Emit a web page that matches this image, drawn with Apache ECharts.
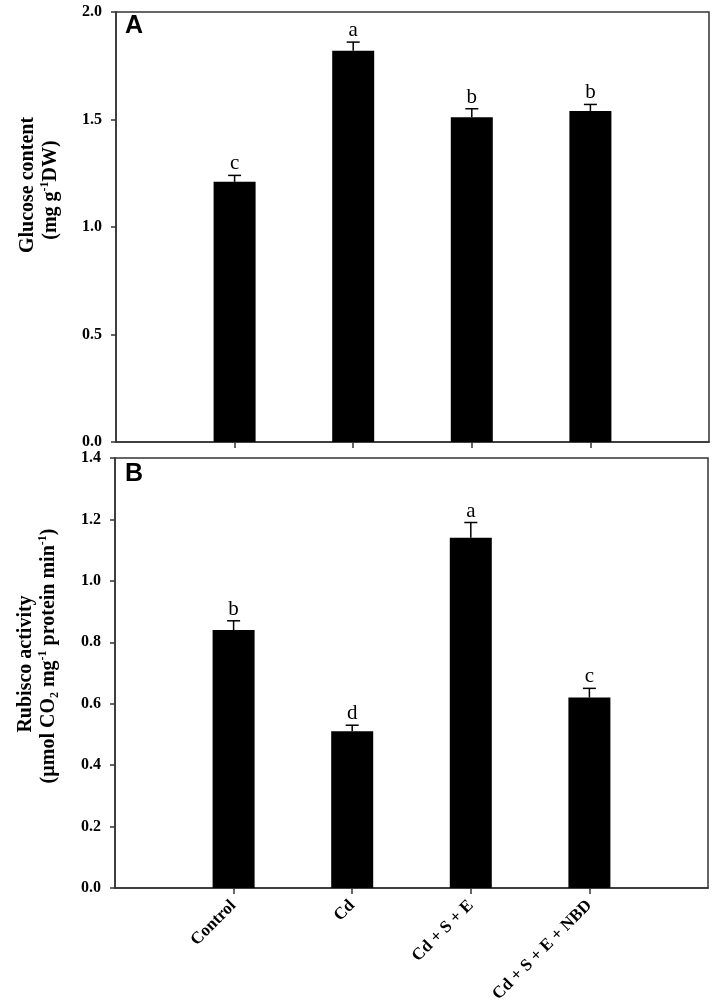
<!DOCTYPE html>
<html>
<head>
<meta charset="utf-8">
<script src="https://cdn.jsdelivr.net/npm/echarts@6/dist/echarts.min.js"></script>
<style>
html,body{margin:0;padding:0;background:#fff;}
#chart{width:716px;height:1008px;}
</style>
</head>
<body>
<div id="chart"></div>
<script>
// ---- data ----
var categories = ['Control', 'Cd', 'Cd + S + E', 'Cd + S + E + NBD'];
var categoryPositions = [1, 2, 3, 4];
var glucose = [1.21, 1.82, 1.51, 1.54];
var glucoseErr = [0.03, 0.04, 0.04, 0.03];
var glucoseLetters = ['c', 'a', 'b', 'b'];
var rubisco = [0.84, 0.51, 1.14, 0.62];
var rubiscoErr = [0.03, 0.02, 0.05, 0.03];
var rubiscoLetters = ['b', 'd', 'a', 'c'];
var glucoseTicks = [0, 0.5, 1.0, 1.5, 2.0];
var rubiscoTicks = [0, 0.2, 0.4, 0.6, 0.8, 1.0, 1.2, 1.4];

// ---- build ----
var chart = echarts.init(document.getElementById('chart'), null, {renderer: 'canvas'});
var serif = '"Liberation Serif", "Times New Roman", serif';
var frameColor = '#333';

function barData(vals) {
  return vals.map(function (v, i) { return [categoryPositions[i], v]; });
}
function errData(vals, errs) {
  return vals.map(function (v, i) { return [categoryPositions[i], v, errs[i]]; });
}
function errRender(letters) {
  return function (params, api) {
    var x = api.value(0), v = api.value(1), e = api.value(2);
    var p0 = api.coord([x, v]);
    var p1 = api.coord([x, v + e]);
    return {
      type: 'group',
      children: [
        {type: 'line', shape: {x1: p0[0], y1: p0[1], x2: p1[0], y2: p1[1]}, style: {stroke: '#000', lineWidth: 1.5}},
        {type: 'line', shape: {x1: p1[0] - 6.5, y1: p1[1], x2: p1[0] + 6.5, y2: p1[1]}, style: {stroke: '#000', lineWidth: 1.5}},
        {type: 'text', x: p1[0], y: p1[1] - 1, style: {text: letters[params.dataIndex], fill: '#000', font: 'normal 21px ' + serif, textAlign: 'center', textVerticalAlign: 'bottom'}}
      ]
    };
  };
}

function xAxisCfg(gridIndex, showLabels) {
  return {
    type: 'value', gridIndex: gridIndex, min: 0, max: 5, interval: 1,
    axisLine: {show: true, lineStyle: {color: frameColor, width: 1.5}},
    axisTick: {show: true, inside: false, length: 6, customValues: categoryPositions, lineStyle: {color: frameColor, width: 1.5}},
    axisLabel: {show: showLabels, customValues: categoryPositions, rotate: 45, margin: 15,
      fontFamily: serif, fontWeight: 'bold', fontSize: 17, color: '#000',
      formatter: function (v) { var i = categoryPositions.indexOf(v); return i >= 0 ? categories[i] : ''; }},
    splitLine: {show: false}
  };
}
function yAxisCfg(gridIndex, ticks) {
  return {
    type: 'value', gridIndex: gridIndex, min: ticks[0], max: ticks[ticks.length - 1],
    interval: ticks[1] - ticks[0],
    axisLine: {show: true, lineStyle: {color: frameColor, width: 1.5}},
    axisTick: {show: true, inside: false, length: 5, lineStyle: {color: frameColor, width: 1.5}},
    axisLabel: {margin: 14, fontFamily: serif, fontWeight: 'bold', fontSize: 16, color: '#000',
      formatter: function (v) { return v.toFixed(1); }},
    splitLine: {show: false}
  };
}

var titleFont = serif;
var richStyles = {
  sup: {fontSize: 12, fontWeight: 'bold', fontFamily: titleFont, verticalAlign: 'top', lineHeight: 24},
  sub: {fontSize: 12, fontWeight: 'bold', fontFamily: titleFont, verticalAlign: 'bottom', lineHeight: 24}
};
function yTitle(x, y, text) {
  return {
    type: 'text', x: x, y: y, rotation: Math.PI / 2, z: 10,
    style: {text: text, fill: '#000', fontFamily: titleFont, fontWeight: 'bold', fontSize: 20,
      lineHeight: 24, textAlign: 'center', textVerticalAlign: 'middle', rich: richStyles}
  };
}

var option = {
  animation: false,
  backgroundColor: '#fff',
  grid: [
    {left: 116, top: 12, width: 593, height: 430, show: true, borderColor: frameColor, borderWidth: 1.5, backgroundColor: 'transparent'},
    {left: 115, top: 458, width: 593, height: 430, show: true, borderColor: frameColor, borderWidth: 1.5, backgroundColor: 'transparent'}
  ],
  xAxis: [xAxisCfg(0, false), xAxisCfg(1, true)],
  yAxis: [yAxisCfg(0, glucoseTicks), yAxisCfg(1, rubiscoTicks)],
  series: [
    {type: 'bar', xAxisIndex: 0, yAxisIndex: 0, data: barData(glucose), barWidth: 42, itemStyle: {color: '#000'}},
    {type: 'custom', xAxisIndex: 0, yAxisIndex: 0, data: errData(glucose, glucoseErr), renderItem: errRender(glucoseLetters), z: 5},
    {type: 'bar', xAxisIndex: 1, yAxisIndex: 1, data: barData(rubisco), barWidth: 42, itemStyle: {color: '#000'}},
    {type: 'custom', xAxisIndex: 1, yAxisIndex: 1, data: errData(rubisco, rubiscoErr), renderItem: errRender(rubiscoLetters), z: 5}
  ],
  graphic: [
    yTitle(28, 185, 'Glucose content'),
    yTitle(51, 190, '(mg g{sup|-1}DW)'),
    yTitle(26, 664, 'Rubisco activity'),
    yTitle(49, 656, '(\u00b5mol CO{sub|2} mg{sup|-1} protein min{sup|-1})'),
    {type: 'text', left: 125, top: 14, z: 10, style: {text: 'A', fill: '#000', font: 'bold 25px "Liberation Sans", Arial, sans-serif'}},
    {type: 'text', left: 125, top: 462, z: 10, style: {text: 'B', fill: '#000', font: 'bold 25px "Liberation Sans", Arial, sans-serif'}}
  ]
};
chart.setOption(option);
</script>
</body>
</html>
